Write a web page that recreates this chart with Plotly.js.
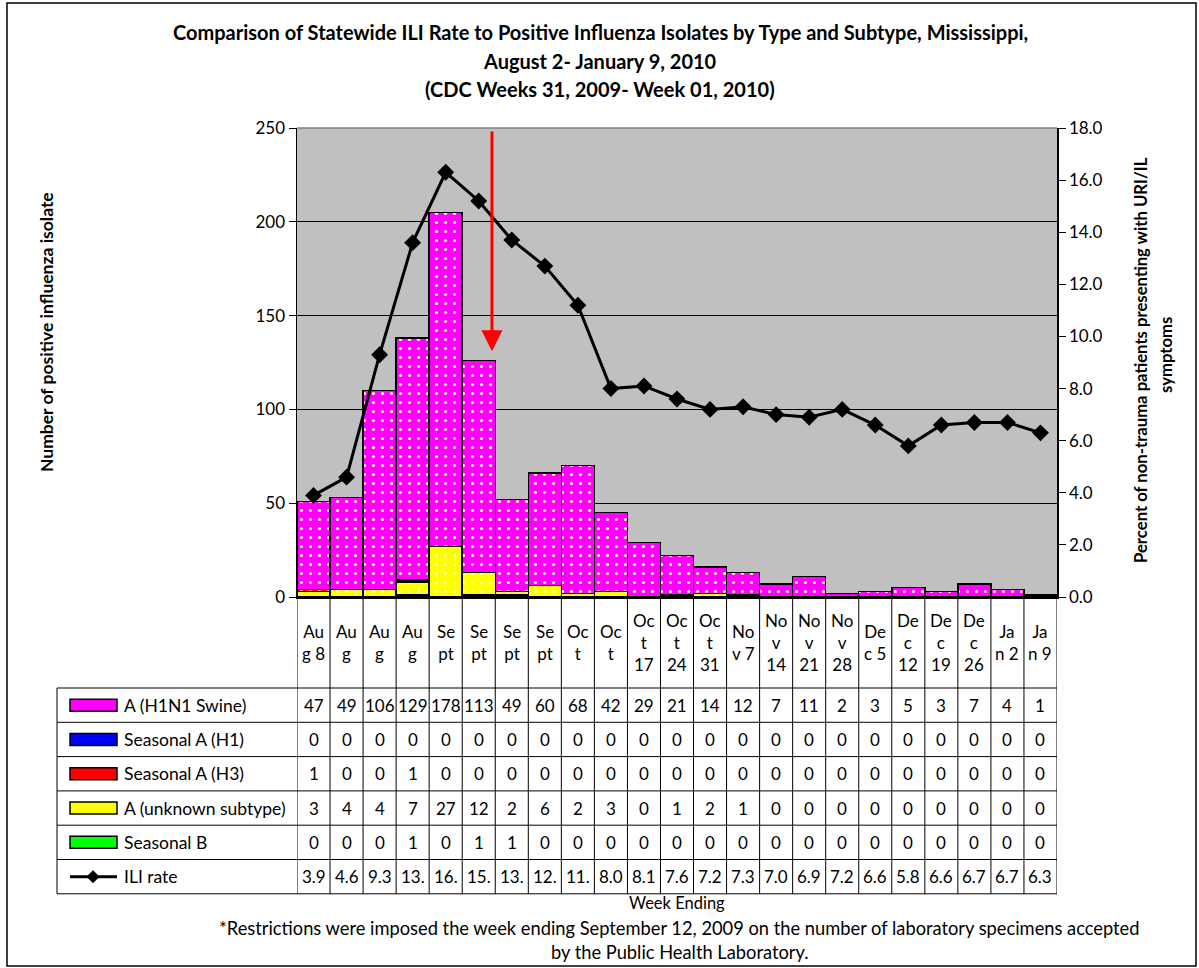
<!DOCTYPE html>
<html>
<head>
<meta charset="utf-8">
<script src="https://cdn.plot.ly/plotly-3.0.1.min.js"></script>
<style>html,body{margin:0;padding:0;background:#fff;}#chart{width:1199px;height:968px;}</style>
</head>
<body>
<div id="chart"></div>
<script>
// ---------- DATA ----------
const weeks = ["Aug 8","Aug 15","Aug 22","Aug 29","Sept 5","Sept 12","Sept 19","Sept 26","Oct 3","Oct 10","Oct 17","Oct 24","Oct 31","Nov 7","Nov 14","Nov 21","Nov 28","Dec 5","Dec 12","Dec 19","Dec 26","Jan 2","Jan 9"];
const headerLabels = ["Au<br>g 8","Au<br>g","Au<br>g","Au<br>g","Se<br>pt","Se<br>pt","Se<br>pt","Se<br>pt","Oc<br>t","Oc<br>t","Oc<br>t<br>17","Oc<br>t<br>24","Oc<br>t<br>31","No<br>v 7","No<br>v<br>14","No<br>v<br>21","No<br>v<br>28","De<br>c 5","De<br>c<br>12","De<br>c<br>19","De<br>c<br>26","Ja<br>n 2","Ja<br>n 9"];
const h1n1Swine = [47,49,106,129,178,113,49,60,68,42,29,21,14,12,7,11,2,3,5,3,7,4,1];
const seasonalH1 = [0,0,0,0,0,0,0,0,0,0,0,0,0,0,0,0,0,0,0,0,0,0,0];
const seasonalH3 = [1,0,0,1,0,0,0,0,0,0,0,0,0,0,0,0,0,0,0,0,0,0,0];
const unknownSubtype = [3,4,4,7,27,12,2,6,2,3,0,1,2,1,0,0,0,0,0,0,0,0,0];
const seasonalB = [0,0,0,1,0,1,1,0,0,0,0,0,0,0,0,0,0,0,0,0,0,0,0];
const iliRate = [3.9,4.6,9.3,13.6,16.3,15.2,13.7,12.7,11.2,8.0,8.1,7.6,7.2,7.3,7.0,6.9,7.2,6.6,5.8,6.6,6.7,6.7,6.3];
const seriesNames = ["A (H1N1 Swine)","Seasonal A (H1)","Seasonal A (H3)","A (unknown subtype)","Seasonal B","ILI rate"];
const seriesColors = ["#FF00FF","#0000FF","#FF0000","#FFFF00","#00FF00","#000000"];
const titleLines = ["Comparison of Statewide ILI Rate to Positive Influenza Isolates by Type and Subtype, Mississippi,","August 2- January 9, 2010","(CDC Weeks 31, 2009- Week 01, 2010)"];
const rightTitleLines = ["Percent of non-trauma patients presenting with URI/IL","symptoms"];
const leftTitle = "Number of positive influenza isolate";
const xTitle = "Week Ending";
const footnoteLines = ["*Restrictions were imposed the week ending September 12, 2009 on the number of laboratory specimens accepted","by the Public Health Laboratory."];
const restrictionWeekIndex = 5.4;   // arrow position (between Sept 12 and Sept 19)
const arrowFrom = 249, arrowTo = 131;

// ---------- LAYOUT HELPERS ----------
const L = 297, R = 1057, T = 128, B = 597;
const px = p => (p - L) / (R - L);
const py = p => (B - p) / (B - T);
const FONT = "Lato, 'Open Sans', sans-serif";

function barTrace(name, vals, color) {
  return {
    type: 'bar', name: name, x: weeks, y: vals, yaxis: 'y',
    marker: {
      color: color,
      line: {color: '#000', width: 1.5},
      pattern: {shape: '.', bgcolor: color, fgcolor: '#FFFFB0', size: 9, solidity: 0.1}
    },
    hoverinfo: 'x+y+name'
  };
}

const traces = [
  barTrace(seriesNames[4], seasonalB, seriesColors[4]),
  barTrace(seriesNames[3], unknownSubtype, seriesColors[3]),
  barTrace(seriesNames[2], seasonalH3, seriesColors[2]),
  barTrace(seriesNames[1], seasonalH1, seriesColors[1]),
  barTrace(seriesNames[0], h1n1Swine, seriesColors[0]),
  {
    type: 'scatter', mode: 'lines+markers', name: seriesNames[5], x: weeks, y: iliRate, yaxis: 'y2',
    line: {color: '#000', width: 3},
    marker: {symbol: 'diamond', size: 13, color: '#000'}
  }
];

const shapes = [];
const annotations = [];
function txt(xp, yp, text, size, opts) {
  annotations.push(Object.assign({xref: 'paper', yref: 'paper', x: px(xp), y: py(yp), text: text, showarrow: false,
    xanchor: 'center', yanchor: 'middle', font: {family: FONT, size: size, color: '#000'}}, opts || {}));
}

// outer border
shapes.push({type: 'rect', xref: 'paper', yref: 'paper', x0: px(7), x1: px(1196), y0: py(3), y1: py(966), line: {color: '#000', width: 1.5}});
// plot-area border (top)
shapes.push({type: 'line', xref: 'paper', yref: 'paper', x0: 0, x1: 1, y0: 1, y1: 1, line: {color: '#808080', width: 1.5}});

// table geometry
const headerBottom = 688;
const rowH = 34.3;
const rowTops = [];
for (let r = 0; r <= seriesNames.length; r++) rowTops.push(headerBottom + r * rowH);
const tableBottom = rowTops[rowTops.length - 1];
const tableLeft = 57;

for (let i = 0; i <= weeks.length; i++) {
  shapes.push({type: 'line', xref: 'x', yref: 'paper', x0: i - 0.5, x1: i - 0.5, y0: py(B), y1: py(tableBottom), line: {color: '#000', width: 1}});
}
shapes.push({type: 'line', xref: 'paper', yref: 'paper', x0: px(tableLeft), x1: px(tableLeft), y0: py(headerBottom), y1: py(tableBottom), line: {color: '#000', width: 1}});
rowTops.forEach(y => {
  shapes.push({type: 'line', xref: 'paper', yref: 'paper', x0: px(tableLeft), x1: 1, y0: py(y), y1: py(y), line: {color: '#000', width: 1}});
});

// header labels
weeks.forEach((w, i) => {
  annotations.push({xref: 'x', yref: 'paper', x: w, y: py((B + headerBottom) / 2), text: headerLabels[i], showarrow: false,
    xanchor: 'center', yanchor: 'middle', font: {family: FONT, size: 17, color: '#000'}});
});

// table rows
const rowData = [h1n1Swine, seasonalH1, seasonalH3, unknownSubtype, seasonalB, iliRate];
rowData.forEach((vals, r) => {
  const cy = rowTops[r] + rowH / 2;
  if (r < 5) {
    shapes.push({type: 'rect', xref: 'paper', yref: 'paper', x0: px(70), x1: px(117), y0: py(cy - 6), y1: py(cy + 6),
      fillcolor: seriesColors[r], line: {color: '#000', width: 1.5}});
  } else {
    shapes.push({type: 'line', xref: 'paper', yref: 'paper', x0: px(70), x1: px(117), y0: py(cy), y1: py(cy), line: {color: '#000', width: 3}});
    const d = 6;
    shapes.push({type: 'path', xref: 'paper', yref: 'paper',
      path: `M ${px(93)} ${py(cy - d)} L ${px(93 + d)} ${py(cy)} L ${px(93)} ${py(cy + d)} L ${px(93 - d)} ${py(cy)} Z`,
      fillcolor: '#000', line: {color: '#000', width: 1}});
  }
  txt(122, cy, seriesNames[r], 17.5, {xanchor: 'left'});
  vals.forEach((v, i) => {
    const t = r === 5 ? v.toFixed(1).slice(0, 3) : String(v);
    annotations.push({xref: 'x', yref: 'paper', x: weeks[i], y: py(cy), text: t, showarrow: false,
      xanchor: 'center', yanchor: 'middle', font: {family: FONT, size: 17, color: '#000'}});
  });
});

// title
[32, 61, 89].forEach((y, k) => txt(600, y, titleLines[k], 20, {font: {family: FONT, size: 20, color: '#000', weight: 'bold'}}));
// axis titles
txt(46, 332, leftTitle, 17.5, {textangle: -90, font: {family: FONT, size: 17.5, color: '#000', weight: 'bold'}});
txt(1141, 360, rightTitleLines[0], 16.7, {textangle: -90, font: {family: FONT, size: 16.7, color: '#000', weight: 'bold'}});
txt(1166, 355, rightTitleLines[1], 16.7, {textangle: -90, font: {family: FONT, size: 16.7, color: '#000', weight: 'bold'}});
// week ending + footnote
txt(677, 903, xTitle, 16.5);
txt(679, 928, footnoteLines[0], 18.3);
txt(680, 952, footnoteLines[1], 18.3);
// red arrow
annotations.push({xref: 'x', yref: 'y', axref: 'x', ayref: 'y', x: restrictionWeekIndex, y: arrowTo, ax: restrictionWeekIndex, ay: arrowFrom,
  text: '', showarrow: true, arrowcolor: '#FF0000', arrowwidth: 3, arrowhead: 2, arrowsize: 1.4});

const layout = {
  width: 1199, height: 968,
  margin: {l: L, r: 1199 - R, t: T, b: 968 - B, pad: 0},
  paper_bgcolor: '#fff', plot_bgcolor: '#C0C0C0',
  barmode: 'stack', bargap: 0,
  showlegend: false,
  font: {family: FONT, color: '#000'},
  xaxis: {type: 'category', showticklabels: false, ticks: '', showgrid: false, zeroline: false,
    showline: true, linecolor: '#000', linewidth: 2, range: [-0.5, weeks.length - 0.5], fixedrange: true},
  yaxis: {range: [0, 250], dtick: 50, tick0: 0, showgrid: true, gridcolor: '#000', gridwidth: 1, zeroline: false,
    showline: true, linecolor: '#000', linewidth: 1.5, ticks: 'outside', ticklen: 7, tickcolor: '#000',
    tickfont: {family: FONT, size: 17, color: '#000'}},
  yaxis2: {overlaying: 'y', side: 'right', range: [0, 18], dtick: 2, tick0: 0, tickformat: '.1f', showgrid: false, zeroline: false,
    showline: true, linecolor: '#000', linewidth: 1.5, ticks: 'outside', ticklen: 7, tickcolor: '#000',
    tickfont: {family: FONT, size: 17, color: '#000'}},
  shapes: shapes,
  annotations: annotations
};

Plotly.newPlot('chart', traces, layout, {displayModeBar: false, staticPlot: true});
</script>
</body>
</html>
